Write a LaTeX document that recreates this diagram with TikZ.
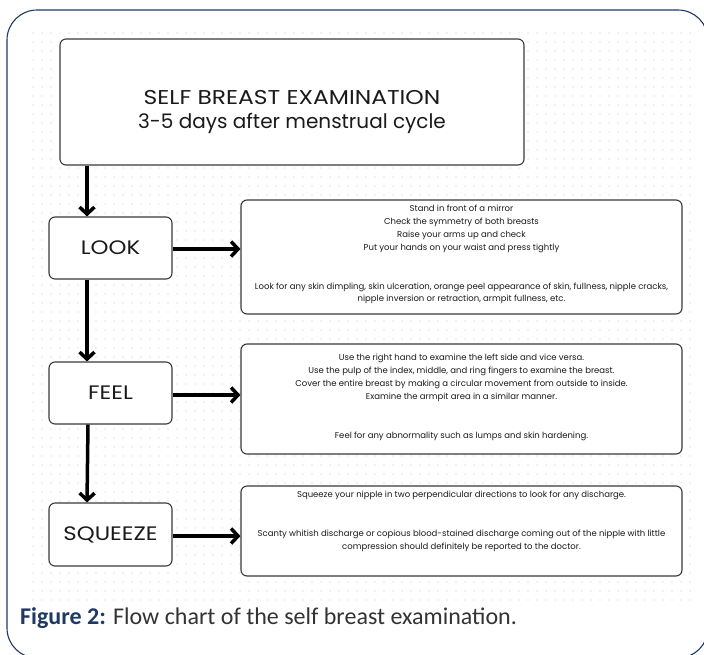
\documentclass[tikz,border=0pt]{standalone}
\usepackage{fontspec}
\setmainfont{Poppins}
\newfontfamily\widefont[FakeStretch=1.17]{Poppins}
\newfontfamily\capfont{Carlito}
\usetikzlibrary{arrows.meta}
\definecolor{navy}{HTML}{1F3864}
\definecolor{dotc}{HTML}{E6E6E6}
\definecolor{boxc}{HTML}{3A3A3A}
\definecolor{txtc}{HTML}{1A1A1A}
\definecolor{capgray}{HTML}{333333}
\tikzset{
  box/.style={draw=boxc, fill=white, line width=1.1pt, rounded corners=6pt, inner sep=0pt},
  stepbox/.style={box, minimum width=123pt, minimum height=62pt, font=\widefont\fontsize{19.5}{22}\selectfont, text=txtc},
  detail/.style={box, minimum width=441pt},
  dtext/.style={align=center, anchor=north, inner sep=0pt, text=txtc, font=\fontsize{8.5}{12.9}\selectfont},
  flow/.style={line width=3.5pt, -{Straight Barb[length=7pt,width=15pt]}}
}
\begin{document}
\begin{tikzpicture}[x=1pt,y=-1pt]
\useasboundingbox (0,0) rectangle (704,654);
\clip (0,0) rectangle (704,654);
\fill[white] (0,0) rectangle (704,654);
\draw[navy, line width=1.1pt, rounded corners=30pt] (7,10) rectangle (708,658);
\foreach \i in {0,...,73}{
  \foreach \j in {0,...,63}{
    \fill[dotc] (33+\i*9, 33+\j*9) circle (0.8pt);
  }
}
% nodes
\node[box, minimum width=464pt, minimum height=126pt] (title) at (292,102) {};
\node[align=center, text=txtc, inner sep=0pt, font=\fontsize{20}{23.5}\selectfont] (ttext) at ([yshift=-10pt]title.center)
      {{\widefont SELF BREAST EXAMINATION}\\3-5 days after menstrual cycle};
\node[stepbox] (look) at (110.5,248) {LOOK};
\node[stepbox] (feel) at (110.5,393) {FEEL};
\node[stepbox, minimum height=63pt] (squeeze) at (110.5,534.5) {SQUEEZE};
\node[detail, minimum height=114pt] (d1) at (461.5,257) {};
\node[detail, minimum height=110pt] (d2) at (461.5,399) {};
\node[detail, minimum height=90pt] (d3) at (461.5,531) {};
\node[dtext] (t1) at ([yshift=-5.5pt]d1.north) {Stand in front of a mirror\\Check the symmetry of both breasts\\Raise your arms up and check\\Put your hands on your waist and press tightly\\[25.8pt]Look for any skin dimpling, skin ulceration, orange peel appearance of skin, fullness, nipple cracks,\\nipple inversion or retraction, armpit fullness, etc.};
\node[dtext] (t2) at ([yshift=-10.5pt]d2.north) {Use the right hand to examine the left side and vice versa.\\Use the pulp of the index, middle, and ring fingers to examine the breast.\\Cover the entire breast by making a circular movement from outside to inside.\\Examine the armpit area in a similar manner.\\[25.8pt]Feel for any abnormality such as lumps and skin hardening.};
\node[dtext] (t3) at ([yshift=-5.5pt]d3.north) {Squeeze your nipple in two perpendicular directions to look for any discharge.\\[25.8pt]Scanty whitish discharge or copious blood-stained discharge coming out of the nipple with little\\compression should definitely be reported to the doctor.};
% connectors
\coordinate (ax) at (87,0);
\draw[flow] (title.south -| ax) -- (look.north -| ax);
\draw[flow] (look.south -| ax) -- (feel.north -| ax);
\draw[flow] ([xshift=1pt]feel.south -| ax) -- (squeeze.north -| ax);
\draw[flow] (look.east |- 0,249) -- (d1.west |- 0,249);
\draw[flow] (feel.east |- 0,395) -- (d2.west |- 0,395);
\draw[flow] (squeeze.east |- 0,536) -- (d3.west |- 0,536);
% caption
\node[anchor=base west, inner sep=0pt, font=\capfont\fontsize{24}{28}\selectfont] (cap) at (20,624)
  {\textcolor{navy}{\bfseries Figure 2:} \textcolor{capgray}{Flow chart of the self breast examination.}};
\end{tikzpicture}
\end{document}
